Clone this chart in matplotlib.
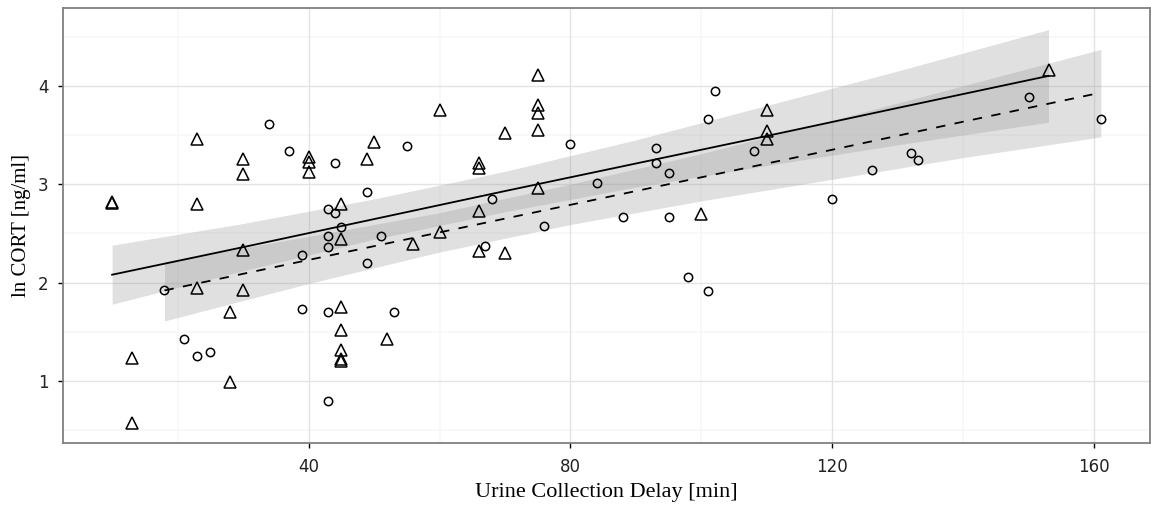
import numpy as np
import matplotlib
matplotlib.use("Agg")
import matplotlib.pyplot as plt

# delay [min] and ln CORT for the two groups
tri_x = [10, 10, 13, 13, 23, 23, 23, 28, 28, 30, 30, 30, 30, 40, 40, 40,
         45, 45, 45, 45, 45, 45, 45, 49, 50, 52, 56, 60, 60, 66, 66, 66, 66,
         70, 70, 75, 75, 75, 75, 75, 100, 110, 110, 110, 153]
tri_y = [2.82, 2.81, 1.23, 0.57, 3.46, 2.80, 1.95, 1.70, 0.99, 3.26, 3.10, 2.33, 1.92,
         3.28, 3.23, 3.12, 2.80, 2.44, 1.75, 1.52, 1.32, 1.22, 1.20, 3.26, 3.43,
         1.43, 2.39, 3.75, 2.51, 3.21, 3.16, 2.73, 2.32, 3.52, 2.30, 4.11, 3.80,
         3.72, 3.55, 2.96, 2.70, 3.75, 3.54, 3.46, 4.16]

circ_x = [18, 21, 23, 25, 34, 37, 39, 39, 43, 44, 43, 43, 43, 43, 44, 45,
          49, 49, 51, 53, 55, 67, 68, 76, 80, 84, 88, 93, 93, 95, 95, 98,
          101, 101, 102, 108, 120, 126, 132, 133, 150, 161]
circ_y = [1.92, 1.43, 1.25, 1.29, 3.61, 3.34, 2.28, 1.73, 2.75, 2.71, 2.47, 2.36,
          1.70, 0.80, 3.21, 2.56, 2.92, 2.20, 2.47, 1.70, 3.39, 2.37, 2.85, 2.58,
          3.41, 3.01, 2.67, 3.37, 3.22, 3.11, 2.67, 2.06, 3.66, 1.91, 3.95, 3.34,
          2.85, 3.14, 3.32, 3.25, 3.89, 3.66]

# fitted trend and confidence band, triangles (solid)
tri_fit_x = [10, 30, 50, 70, 90, 110, 130, 153]
tri_fit = [2.08, 2.36, 2.645, 2.93, 3.21, 3.49, 3.775, 4.10]
tri_lo = [1.78, 2.12, 2.44, 2.72, 2.97, 3.19, 3.40, 3.63]
tri_hi = [2.38, 2.60, 2.85, 3.13, 3.45, 3.80, 4.15, 4.57]

# fitted trend and confidence band, circles (dashed)
circ_fit_x = [18, 40, 60, 80, 100, 120, 140, 161]
circ_fit = [1.92, 2.23, 2.51, 2.79, 3.07, 3.35, 3.635, 3.93]
circ_lo = [1.61, 1.99, 2.31, 2.59, 2.83, 3.05, 3.27, 3.48]
circ_hi = [2.21, 2.47, 2.71, 3.00, 3.31, 3.65, 4.00, 4.37]

xticks = [40, 80, 120, 160]
yticks = [1, 2, 3, 4]

fig = plt.figure(figsize=(11.51, 5.08), dpi=100)
ax = fig.add_axes([63 / 1151, 65 / 508, 1087 / 1151, 435 / 508])

ax.set_xlim(2.5, 168.5)
ax.set_ylim(0.37, 4.79)

# grid like the old theme_bw
for v in [20, 60, 100, 140]:
    ax.axvline(v, color="#f7f7f7", lw=1.2, zorder=0)
for v in [0.5, 1.5, 2.5, 3.5, 4.5]:
    ax.axhline(v, color="#f7f7f7", lw=1.2, zorder=0)
for v in xticks:
    ax.axvline(v, color="#e3e3e3", lw=1.0, zorder=0)
for v in yticks:
    ax.axhline(v, color="#e3e3e3", lw=1.0, zorder=0)

ax.fill_between(tri_fit_x, tri_lo, tri_hi, color="#999999", alpha=0.3, lw=0, zorder=1)
ax.plot(tri_fit_x, tri_fit, color="black", lw=1.3, zorder=2)

ax.fill_between(circ_fit_x, circ_lo, circ_hi, color="#999999", alpha=0.3, lw=0, zorder=1)
ax.plot(circ_fit_x, circ_fit, color="black", lw=1.3, linestyle=(0, (5.2, 5.2)), zorder=2)

ax.plot(circ_x, circ_y, 'o', mfc='none', mec='black', ms=6, mew=1.1, zorder=3)
ax.plot(tri_x, tri_y, '^', mfc='none', mec='black', ms=9, mew=1.1, zorder=3)

ax.set_xticks(xticks)
ax.set_yticks(yticks)
ax.tick_params(length=3.6, width=1, color='black', labelsize=12, labelcolor='#222222', pad=7)
for sp in ax.spines.values():
    sp.set_color('#808080')
    sp.set_linewidth(1.3)

ax.set_xlabel('Urine Collection Delay [min]', family='Liberation Serif', fontsize=16, labelpad=5)
ax.set_ylabel('ln CORT [ng/ml]', family='Liberation Serif', fontsize=15, labelpad=5)

fig.savefig('out.png', dpi=100)
